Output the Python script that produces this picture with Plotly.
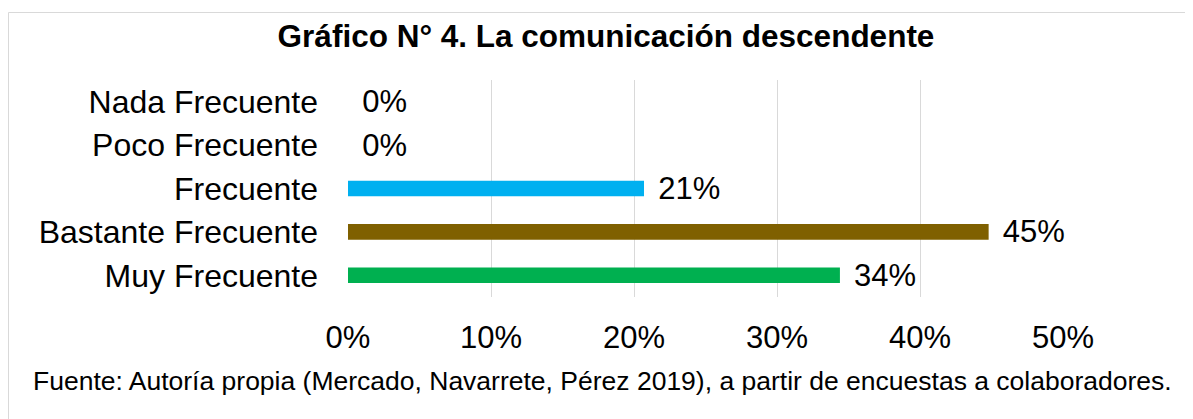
import plotly.graph_objects as go

categories = ["Nada Frecuente", "Poco Frecuente", "Frecuente", "Bastante Frecuente", "Muy Frecuente"]
values = [0.0, 0.0, 0.207, 0.448, 0.344]
bar_colors = ["#00B0F0", "#00B0F0", "#00B0F0", "#7F6000", "#00B050"]
tick_vals = [0, 0.1, 0.2, 0.3, 0.4, 0.5]
tick_text = ["0%", "10%", "20%", "30%", "40%", "50%"]
title_text = "<b>Gráfico N° 4. La comunicación descendente</b>"
source_text = "Fuente: Autoría propia (Mercado, Navarrete, Pérez 2019), a partir de encuestas a colaboradores."

W, H = 1193, 419
OFF = 8  # page body margin
# plot area in screen pixels: x 348..1063, y 80..297
L = 348 - OFF
T = 80 - OFF
R = W - (1063 - OFF)
B = H - (297 - OFF)
pw, ph = W - L - R, H - T - B

def px_x(x):
    return (x - OFF - L) / pw

def px_y(y):
    return (H - B - (y - OFF)) / ph

FONT = "Liberation Sans, Arial, sans-serif"

fig = go.Figure(go.Bar(
    y=categories,
    x=values,
    orientation="h",
    marker=dict(color=bar_colors, line=dict(width=0)),
    width=0.36,
    texttemplate="\u00a0\u200a%{x:.0%}",
    textposition="outside",
    constraintext="none",
    cliponaxis=False,
    textfont=dict(size=31, color="#000000", family=FONT),
))

fig.update_layout(
    width=W, height=H,
    margin=dict(l=L, r=R, t=T, b=B),
    paper_bgcolor="white",
    plot_bgcolor="white",
    showlegend=False,
    font=dict(family=FONT, color="#000000"),
    title=dict(
        text=title_text,
        x=(606 - OFF) / W, xanchor="center",
        y=1 - (36 - OFF) / H, yanchor="middle",
        yref="container", xref="container",
        font=dict(size=31.5, color="#000000", family=FONT),
    ),
    xaxis=dict(
        range=[0, 0.5],
        tickvals=tick_vals,
        ticktext=tick_text,
        showgrid=True,
        gridcolor="#d9d9d9",
        gridwidth=1,
        zeroline=False,
        showline=False,
        ticks="",
        ticklabelstandoff=19,
        tickfont=dict(size=31, color="#000000", family=FONT),
    ),
    yaxis=dict(
        autorange="reversed",
        showgrid=False,
        zeroline=False,
        showline=False,
        ticks="",
        ticklabelstandoff=29,
        tickfont=dict(size=32, color="#000000", family=FONT),
    ),
    annotations=[dict(
        text=source_text,
        xref="paper", yref="paper",
        x=px_x(602), y=px_y(381),
        xanchor="center", yanchor="middle",
        showarrow=False,
        font=dict(size=26.5, color="#000000", family=FONT),
    )],
    shapes=[dict(
        type="rect", xref="paper", yref="paper",
        x0=px_x(8.5), x1=px_x(1260), y0=px_y(480), y1=px_y(12.5),
        line=dict(color="#d9d9d9", width=1),
        fillcolor="rgba(0,0,0,0)",
        layer="below",
    )],
)

fig.write_html("out.html")
